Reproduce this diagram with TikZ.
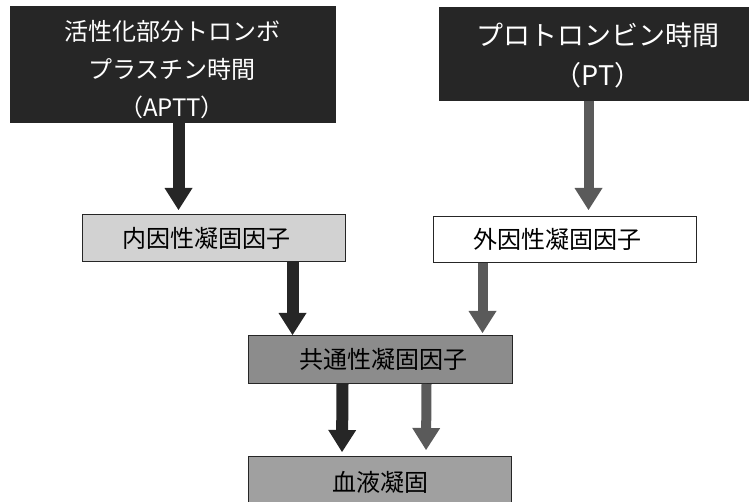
\documentclass[tikz,border=0pt]{standalone}
\usepackage{fontspec}
\newfontfamily\jp{Noto Sans CJK JP}
\usetikzlibrary{arrows.meta,calc}
\definecolor{topfill}{HTML}{262626}
\definecolor{intrfill}{HTML}{D2D2D2}
\definecolor{commfill}{HTML}{8C8C8C}
\definecolor{bloodfill}{HTML}{A0A0A0}
\definecolor{darkarrow}{HTML}{262626}
\definecolor{grayarrow}{HTML}{5A5A5A}
\tikzset{
  box/.style={draw=black!85, line width=1pt, inner sep=0pt, anchor=north west},
  txt/.style={font=\jp\fontsize{24}{38}\selectfont, align=center, inner sep=0pt},
  arr/.style={line width=12pt, -{Triangle[width=28pt,length=22pt,line width=0pt]}},
  darr/.style={arr, draw=darkarrow},
  garr/.style={arr, line width=10pt, draw=grayarrow}
}
\begin{document}
\begin{tikzpicture}[x=1pt,y=-1pt]
\useasboundingbox (0,0) rectangle (750,502);
% boxes
\node[box, fill=topfill, minimum width=325pt, minimum height=116pt] (apt) at (10,6) {};
\node[box, fill=topfill, minimum width=309pt, minimum height=93pt] (pt) at (439,7) {};
\node[box, fill=intrfill, minimum width=263pt, minimum height=47pt] (intr) at (82,214) {};
\node[box, fill=white, minimum width=263pt, minimum height=46pt] (extr) at (433,216) {};
\node[box, fill=commfill, minimum width=264pt, minimum height=48pt] (comm) at (248,335) {};
\node[box, fill=bloodfill, minimum width=263pt, minimum height=52pt] (blood) at (248,456) {};
% texts
\node[txt, text=white] (aptt) at (172,69.5) {活性化部分トロンボ\\プラスチン時間\\（APTT）};
\node[txt, text=white, font=\jp\fontsize{27}{40}\selectfont] (ptt) at (598,55) {プロトロンビン時間\\（PT）};
\node[txt] (intrt) at (206,238) {内因性凝固因子};
\node[txt] (extrt) at (557,239) {外因性凝固因子};
\node[txt] (commt) at (383,359) {共通性凝固因子};
\node[txt] (bloodt) at (380,482) {血液凝固};
% arrows
\draw[darr, shorten >=4pt] ($(apt.south)+(5.5,0)$) -- ($(intr.north)+(-35.5,0)$);
\draw[garr, shorten >=6pt] ($(pt.south)+(-5.5,0)$) -- ($(extr.north)+(23.5,0)$);
\draw[darr] ($(intr.south)+(78.5,0)$) -- ($(comm.north)+(-88,0)$);
\draw[garr, shorten >=2pt] ($(extr.south)+(-82.5,0)$) -- ($(comm.north)+(102,0)$);
\draw[darr, shorten >=4pt] ($(comm.south)+(-38,0)$) -- ($(blood.north)+(-38,0)$);
\draw[garr, shorten >=6pt] ($(comm.south)+(46,0)$) -- ($(blood.north)+(46,0)$);
\end{tikzpicture}
\end{document}
